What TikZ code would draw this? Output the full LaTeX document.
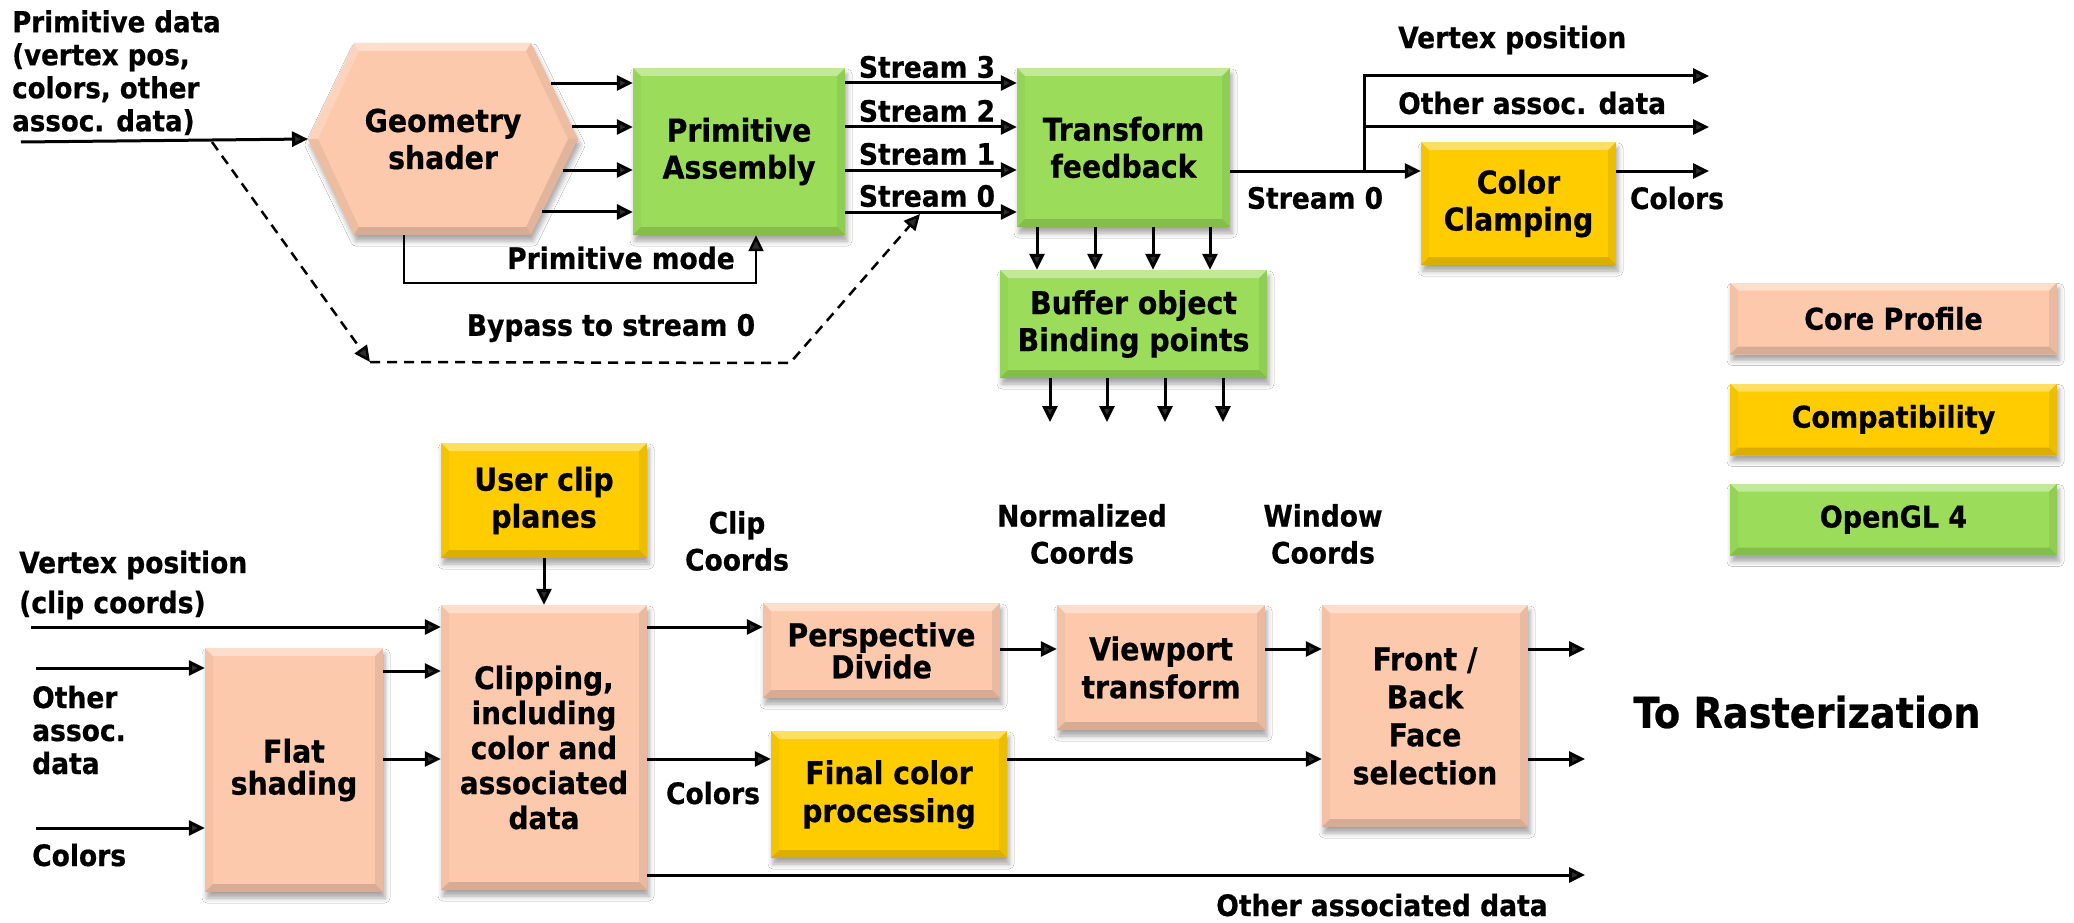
\documentclass[tikz,border=0pt]{standalone}
\usepackage{fontspec}
\newfontfamily\dvb{DejaVu Sans Condensed Bold}[FakeBold=0.6]
\usetikzlibrary{arrows.meta,shadows.blur,calc}

\definecolor{peach}{RGB}{252,201,173}
\definecolor{gold}{RGB}{255,204,0}
\definecolor{leaf}{RGB}{155,221,90}

\tikzset{
  boxfont/.style={font=\dvb\fontsize{31.5}{37}\selectfont},
  lblfont/.style={font=\dvb\fontsize{29.5}{37}\selectfont},
  shad/.style={blur shadow={shadow xshift=2pt, shadow yshift=-6pt,
      shadow blur radius=5pt, shadow opacity=35}},
  bevel/.style={path picture={
     \fill[white,opacity=.38] (path picture bounding box.north west) -- (path picture bounding box.north east)
        -- ([shift={(-8pt,-8pt)}]path picture bounding box.north east) -- ([shift={(8pt,-8pt)}]path picture bounding box.north west) -- cycle;
     \fill[black,opacity=.14] (path picture bounding box.south west) -- (path picture bounding box.south east)
        -- ([shift={(-8pt,8pt)}]path picture bounding box.south east) -- ([shift={(8pt,8pt)}]path picture bounding box.south west) -- cycle;
     \fill[black,opacity=.07] (path picture bounding box.north east) -- (path picture bounding box.south east)
        -- ([shift={(-8pt,8pt)}]path picture bounding box.south east) -- ([shift={(-8pt,-8pt)}]path picture bounding box.north east) -- cycle;
     \fill[black,opacity=.04] (path picture bounding box.north west) -- (path picture bounding box.south west)
        -- ([shift={(8pt,8pt)}]path picture bounding box.south west) -- ([shift={(8pt,-8pt)}]path picture bounding box.north west) -- cycle;
  }},
  blk/.style={boxfont, align=center, inner sep=0pt, bevel, shad},
  core/.style={blk, fill=peach},
  compat/.style={blk, fill=gold},
  gl4/.style={blk, fill=leaf},
  sz/.style 2 args={minimum width=#1pt, minimum height=#2pt},
  legend/.style={sz={327}{72}, font=\dvb\fontsize{30}{34}\selectfont},
  lbl/.style={lblfont, align=center, inner sep=0pt},
  tip/.style={-{Triangle[length=16pt,width=15pt]}},
  ln/.style={line width=3pt},
  arr/.style={ln, tip},
  dsh/.style={line width=2.5pt, dash pattern=on 10pt off 7pt, tip},
}

\begin{document}
\begin{tikzpicture}[x=1pt,y=-1pt]
\useasboundingbox (0,0) rectangle (2074,923);
\fill[white] (0,0) rectangle (2074,923);

% ---------------- geometry stage ----------------
\coordinate (hL) at (308,139);
\coordinate (hTL) at (354,43);
\coordinate (hTR) at (531,43);
\coordinate (hR) at (578,139);
\coordinate (hBR) at (531,235);
\coordinate (hBL) at (354,235);
\path[fill=peach, shad] (hL) -- (hTL) -- (hTR) -- (hR) -- (hBR) -- (hBL) -- cycle;
\fill[white,opacity=.38] (hTL) -- (hTR) -- (526,51) -- (359,51) -- cycle;
\fill[white,opacity=.2] (hL) -- (hTL) -- (359,51) -- (318,139) -- cycle;
\fill[black,opacity=.06] (hTR) -- (hR) -- (568,139) -- (526,51) -- cycle;
\fill[black,opacity=.1] (hR) -- (hBR) -- (526,227) -- (568,139) -- cycle;
\fill[black,opacity=.14] (hBR) -- (hBL) -- (359,227) -- (526,227) -- cycle;
\fill[black,opacity=.06] (hBL) -- (hL) -- (318,139) -- (359,227) -- cycle;
\node[boxfont, align=center, inner sep=0pt] (gs) at (443,139) {Geometry\\shader};

\node[gl4, sz={212}{167}] (pa) at (739,151.5) {Primitive\\Assembly};
\node[gl4, sz={213}{159}] (tf) at (1123.5,147.5) {Transform\\feedback};
\node[gl4, sz={267}{108}] (bo) at (1133.5,324) {Buffer object\\Binding points};
\node[compat, sz={195}{123}] (cc) at (1518.5,203.5) {Color\\Clamping};

% legend
\node[core, legend] (lgcore) at (1893.5,318.5) {Core Profile};
\node[compat, legend] (lgcomp) at (1893.5,419.5) {Compatibility};
\node[gl4, legend] (lggl) at (1893.5,519.5) {OpenGL 4};

% input data
\node[lbl, anchor=north west, align=left, font=\dvb\fontsize{29}{33}\selectfont] (pdata) at (12,10)
  {Primitive data\\(vertex pos,\\colors, other\\assoc. data)};
\coordinate (pin) at (21,142);
\draw[arr] (pin) -- (hL);

% geometry shader outputs
\coordinate (g1) at ($(hTR)!0.417!(hR)$);
\coordinate (g2) at ($(hTR)!0.875!(hR)$);
\coordinate (g3) at ($(hR)!0.323!(hBR)$);
\coordinate (g4) at ($(hR)!0.76!(hBR)$);
\foreach \g in {g1,g2,g3,g4} \draw[arr] (\g) -- (\g -| pa.west);

% primitive mode feedback
\coordinate (gsb) at (404,235);
\coordinate (pmc) at (756,283);
\draw[line width=2.3pt, tip] (gsb) |- (pmc) -- (pmc |- pa.south);
\node[lbl] (pmode) at (621,258) {Primitive mode};

% bypass
\coordinate (dA) at (212,142);
\coordinate (dB) at (370,362);
\coordinate (dC) at (790,363);
\coordinate (dD) at (920,214);
\draw[dsh] (dA) -- (dB);
\draw[dsh] (dB) -- (dC) -- (dD);
\node[lbl] (bypass) at (611,328) {Bypass to stream 0};

% streams
\foreach \y/\n in {83/3,127/2,170/1,212/0}{
  \coordinate (sy\n) at (0,\y);
  \draw[arr] (pa.east |- sy\n) -- (tf.west |- sy\n);
  \node[lbl] (st\n) at (927,\y-16) {Stream \n};
}

% transform feedback to buffer bindings
\foreach \x [count=\i] in {1037,1095,1153,1210}{
  \coordinate (tx\i) at (\x,0);
  \draw[arr] (tf.south -| tx\i) -- (bo.north -| tx\i);
}
\foreach \x [count=\i] in {1050,1107,1165,1223}{
  \coordinate (bx\i) at (\x,422);
  \draw[arr] (bo.south -| bx\i) -- (bx\i);
}

% stream 0 outputs
\coordinate (s0) at (1364,171);
\coordinate (vpos) at (1709,76);
\coordinate (oad) at (1709,127);
\coordinate (cout) at (1709,171);
\draw[ln] (tf.east |- s0) -- (s0);
\draw[arr] (s0) -- (s0 -| cc.west);
\draw[arr] (s0) |- (vpos);
\draw[arr] (s0 |- oad) -- (oad);
\draw[arr] (cc.east |- cout) -- (cout);
\node[lbl] (tfs0) at (1315,198) {Stream 0};
\node[lbl, anchor=west] (lvp) at (1398,40) {Vertex position};
\node[lbl, anchor=west] (loa) at (1398,103) {Other assoc. data};
\node[lbl] (lcol) at (1677,198) {Colors};

% ---------------- clipping stage ----------------
\node[compat, sz={206}{115}] (ucp) at (544,500.5) {User clip\\planes};
\node[core, sz={206}{285}, font=\dvb\fontsize{31}{35}\selectfont] (clip) at (544,747.5)
  {Clipping,\\including\\color and\\associated\\data};
\node[core, sz={178}{244}, font=\dvb\fontsize{31.5}{32}\selectfont] (flat) at (294,770) {Flat\\shading};
\node[core, sz={237}{95}, font=\dvb\fontsize{31.5}{32}\selectfont] (persp) at (881.5,650.5) {Perspective\\Divide};
\node[core, sz={208}{125}, font=\dvb\fontsize{31.5}{38}\selectfont] (vp) at (1161,667.5) {Viewport\\transform};
\node[compat, sz={236}{127}, font=\dvb\fontsize{31.5}{38}\selectfont] (fcp) at (889,794.5) {Final color\\processing};
\node[core, sz={206}{222}, font=\dvb\fontsize{31.5}{38}\selectfont] (fb) at (1425,716) {Front /\\Back\\Face\\selection};

\node[lbl, anchor=west, align=left, font=\dvb\fontsize{29.5}{40}\selectfont] (lvc) at (19,585) {Vertex position\\(clip coords)};
\node[lbl, anchor=west, align=left, font=\dvb\fontsize{29.5}{33}\selectfont] (loadb) at (32,730) {Other\\assoc.\\data};
\node[lbl, anchor=west] (lcolb) at (32,855) {Colors};
\node[lbl] (lclip) at (737,541) {Clip\\Coords};
\node[lbl] (lnorm) at (1082,534) {Normalized\\Coords};
\node[lbl] (lwin) at (1323,534) {Window\\Coords};
\node[lbl] (lcolc) at (713,793) {Colors};
\node[lbl] (loadr) at (1382,905) {Other associated data};
\node[inner sep=0pt, font=\dvb\fontsize{42.5}{48}\selectfont] (rast) at (1807,712) {To Rasterization};

\coordinate (vin) at (31,627);
\coordinate (oin) at (36,668);
\coordinate (cin) at (36,828);
\coordinate (fy1) at (0,671);
\coordinate (fy2) at (0,759);
\coordinate (py) at (0,649);
\coordinate (r1) at (1585,649);
\coordinate (r2) at (1585,759);
\coordinate (r3) at (1585,875);

\draw[arr] (vin) -- (vin -| clip.west);
\draw[arr] (oin) -- (oin -| flat.west);
\draw[arr] (cin) -- (cin -| flat.west);
\draw[arr] (flat.east |- fy1) -- (clip.west |- fy1);
\draw[arr] (flat.east |- fy2) -- (clip.west |- fy2);
\draw[arr] (ucp.south) -- (clip.north);
\draw[arr] (clip.east |- vin) -- (persp.west |- vin);
\draw[arr] (clip.east |- fy2) -- (fcp.west |- fy2);
\draw[arr] (persp.east |- py) -- (vp.west |- py);
\draw[arr] (vp.east |- py) -- (fb.west |- py);
\draw[arr] (fcp.east |- fy2) -- (fb.west |- fy2);
\draw[arr] (fb.east |- r1) -- (r1);
\draw[arr] (fb.east |- r2) -- (r2);
\draw[arr] (clip.east |- r3) -- (r3);
\end{tikzpicture}
\end{document}
